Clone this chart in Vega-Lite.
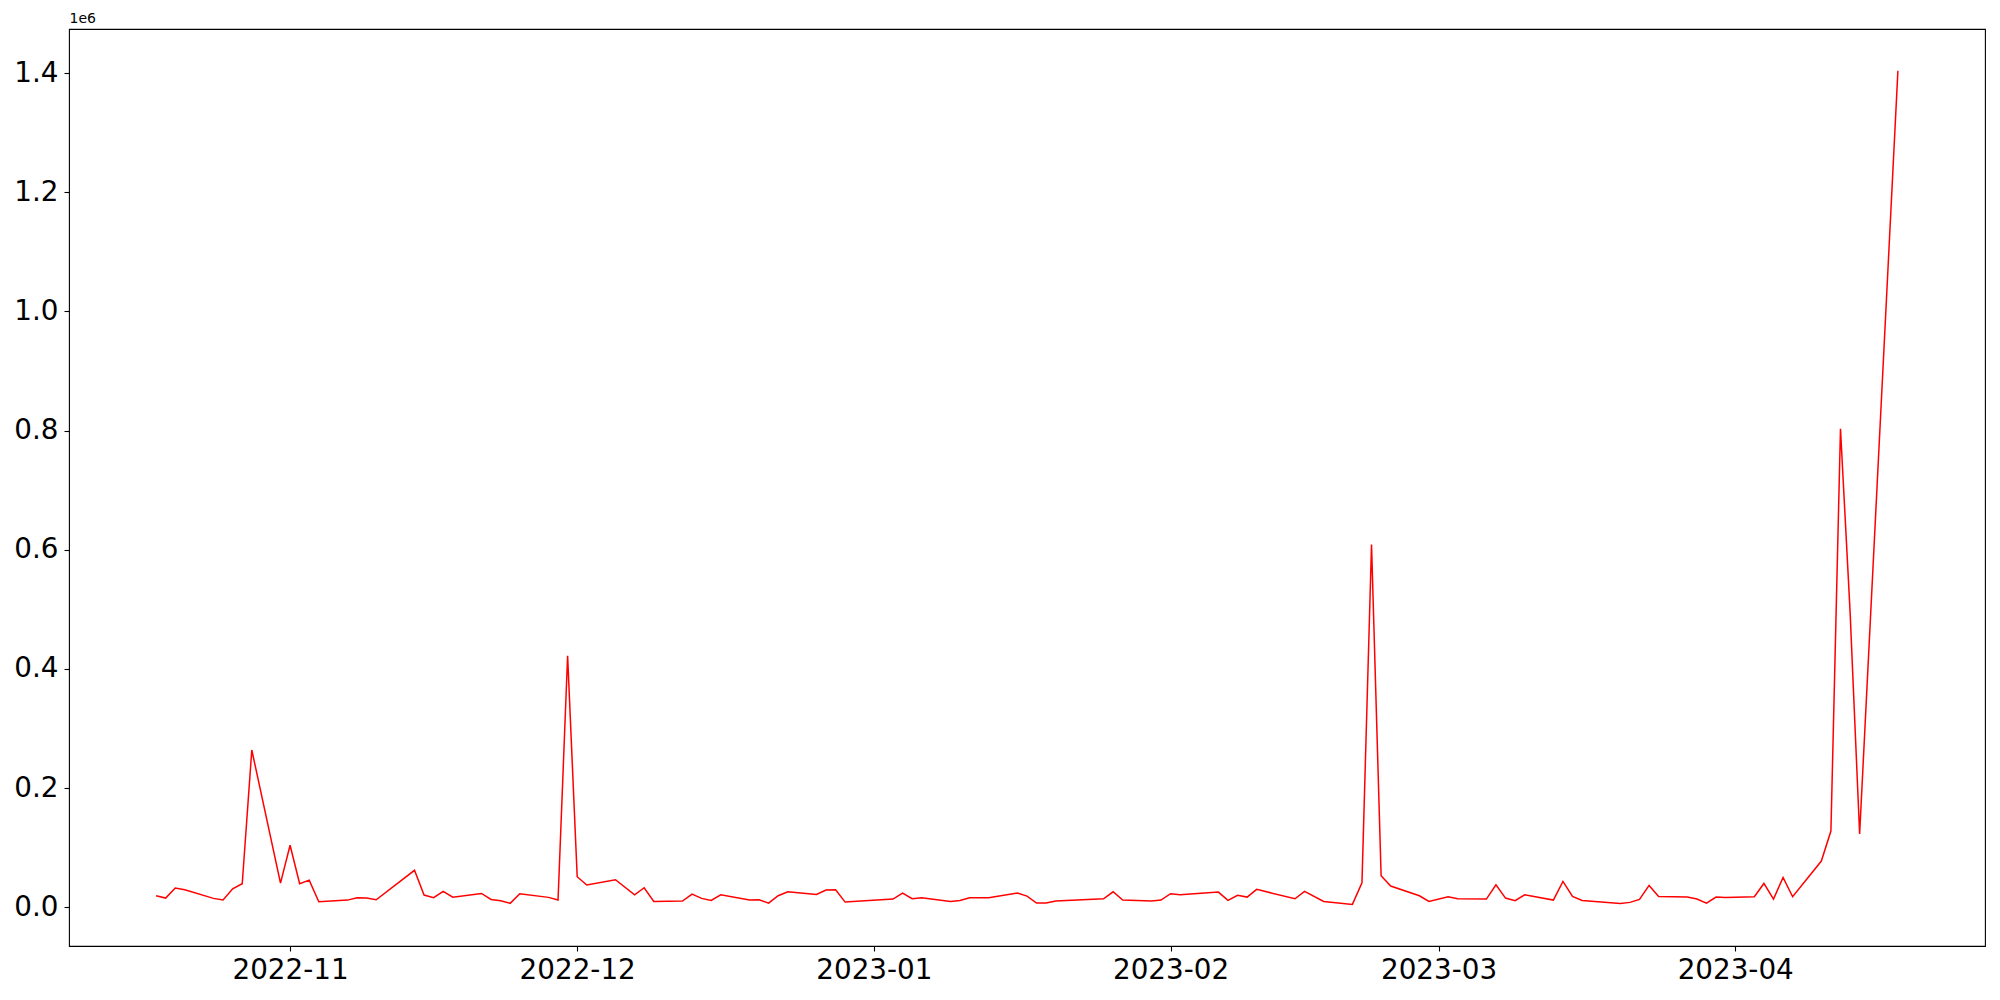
{
  "$schema": "https://vega.github.io/schema/vega-lite/v6.json",
  "width": 1916,
  "height": 917,
  "autosize": {"type": "none"},
  "padding": {"left": 69, "top": 29, "right": 15, "bottom": 54},
  "background": "white",
  "config": {
    "view": {"stroke": "black", "strokeWidth": 1.1},
    "font": "DejaVu Sans"
  },
  "data": {
    "values": [
      {"date": "2022-10-18", "value": 19300},
      {"date": "2022-10-19", "value": 15400},
      {"date": "2022-10-20", "value": 32200},
      {"date": "2022-10-21", "value": 29400},
      {"date": "2022-10-24", "value": 14900},
      {"date": "2022-10-25", "value": 12100},
      {"date": "2022-10-26", "value": 31000},
      {"date": "2022-10-27", "value": 39500},
      {"date": "2022-10-28", "value": 264000},
      {"date": "2022-10-31", "value": 40500},
      {"date": "2022-11-01", "value": 104000},
      {"date": "2022-11-02", "value": 39500},
      {"date": "2022-11-03", "value": 45600},
      {"date": "2022-11-04", "value": 9300},
      {"date": "2022-11-07", "value": 12000},
      {"date": "2022-11-08", "value": 16000},
      {"date": "2022-11-09", "value": 15400},
      {"date": "2022-11-10", "value": 12600},
      {"date": "2022-11-14", "value": 62000},
      {"date": "2022-11-15", "value": 20500},
      {"date": "2022-11-16", "value": 16000},
      {"date": "2022-11-17", "value": 26700},
      {"date": "2022-11-18", "value": 17000},
      {"date": "2022-11-21", "value": 23200},
      {"date": "2022-11-22", "value": 13200},
      {"date": "2022-11-23", "value": 11000},
      {"date": "2022-11-24", "value": 6500},
      {"date": "2022-11-25", "value": 22700},
      {"date": "2022-11-28", "value": 16600},
      {"date": "2022-11-29", "value": 12100},
      {"date": "2022-11-30", "value": 422000},
      {"date": "2022-12-01", "value": 51200},
      {"date": "2022-12-02", "value": 37300},
      {"date": "2022-12-05", "value": 46200},
      {"date": "2022-12-07", "value": 21000},
      {"date": "2022-12-08", "value": 32800},
      {"date": "2022-12-09", "value": 9800},
      {"date": "2022-12-12", "value": 10400},
      {"date": "2022-12-13", "value": 22200},
      {"date": "2022-12-14", "value": 14900},
      {"date": "2022-12-15", "value": 11500},
      {"date": "2022-12-16", "value": 21000},
      {"date": "2022-12-19", "value": 12100},
      {"date": "2022-12-20", "value": 12600},
      {"date": "2022-12-21", "value": 7000},
      {"date": "2022-12-22", "value": 19300},
      {"date": "2022-12-23", "value": 26000},
      {"date": "2022-12-26", "value": 21600},
      {"date": "2022-12-27", "value": 28900},
      {"date": "2022-12-28", "value": 29400},
      {"date": "2022-12-29", "value": 8700},
      {"date": "2023-01-03", "value": 13800},
      {"date": "2023-01-04", "value": 23800},
      {"date": "2023-01-05", "value": 14300},
      {"date": "2023-01-06", "value": 16000},
      {"date": "2023-01-09", "value": 9800},
      {"date": "2023-01-10", "value": 11500},
      {"date": "2023-01-11", "value": 16000},
      {"date": "2023-01-13", "value": 16000},
      {"date": "2023-01-16", "value": 23800},
      {"date": "2023-01-17", "value": 18800},
      {"date": "2023-01-18", "value": 7000},
      {"date": "2023-01-19", "value": 7000},
      {"date": "2023-01-20", "value": 10400},
      {"date": "2023-01-25", "value": 14300},
      {"date": "2023-01-26", "value": 26000},
      {"date": "2023-01-27", "value": 12100},
      {"date": "2023-01-30", "value": 10400},
      {"date": "2023-01-31", "value": 12100},
      {"date": "2023-02-01", "value": 22700},
      {"date": "2023-02-02", "value": 21000},
      {"date": "2023-02-06", "value": 25500},
      {"date": "2023-02-07", "value": 11500},
      {"date": "2023-02-08", "value": 20000},
      {"date": "2023-02-09", "value": 17100},
      {"date": "2023-02-10", "value": 30000},
      {"date": "2023-02-14", "value": 14300},
      {"date": "2023-02-15", "value": 26700},
      {"date": "2023-02-17", "value": 9800},
      {"date": "2023-02-20", "value": 4800},
      {"date": "2023-02-21", "value": 41000},
      {"date": "2023-02-22", "value": 609000},
      {"date": "2023-02-23", "value": 52900},
      {"date": "2023-02-24", "value": 35600},
      {"date": "2023-02-27", "value": 19300},
      {"date": "2023-02-28", "value": 9800},
      {"date": "2023-03-02", "value": 17700},
      {"date": "2023-03-03", "value": 14300},
      {"date": "2023-03-06", "value": 13800},
      {"date": "2023-03-07", "value": 37800},
      {"date": "2023-03-08", "value": 15400},
      {"date": "2023-03-09", "value": 11000},
      {"date": "2023-03-10", "value": 21000},
      {"date": "2023-03-13", "value": 12100},
      {"date": "2023-03-14", "value": 43400},
      {"date": "2023-03-15", "value": 18200},
      {"date": "2023-03-16", "value": 11500},
      {"date": "2023-03-17", "value": 10000},
      {"date": "2023-03-20", "value": 6500},
      {"date": "2023-03-21", "value": 8200},
      {"date": "2023-03-22", "value": 13200},
      {"date": "2023-03-23", "value": 36700},
      {"date": "2023-03-24", "value": 18200},
      {"date": "2023-03-27", "value": 17100},
      {"date": "2023-03-28", "value": 13800},
      {"date": "2023-03-29", "value": 7000},
      {"date": "2023-03-30", "value": 17100},
      {"date": "2023-03-31", "value": 16400},
      {"date": "2023-04-03", "value": 17700},
      {"date": "2023-04-04", "value": 40000},
      {"date": "2023-04-05", "value": 13800},
      {"date": "2023-04-06", "value": 50100},
      {"date": "2023-04-07", "value": 17700},
      {"date": "2023-04-10", "value": 77500},
      {"date": "2023-04-11", "value": 128000},
      {"date": "2023-04-12", "value": 803000},
      {"date": "2023-04-13", "value": 497000},
      {"date": "2023-04-14", "value": 123000},
      {"date": "2023-04-18", "value": 1404000}
    ]
  },
  "mark": {"type": "line", "color": "#ff0000", "strokeWidth": 1.5, "clip": true},
  "encoding": {
    "x": {
      "field": "date",
      "type": "temporal",
      "scale": {
        "type": "utc",
        "domain": [
          {"year": 2022, "month": 10, "date": 8, "hours": 21, "minutes": 36, "utc": true},
          {"year": 2023, "month": 4, "date": 27, "hours": 2, "minutes": 24, "utc": true}
        ]
      },
      "axis": {
        "title": null,
        "values": [
          {"year": 2022, "month": 11, "date": 1, "utc": true},
          {"year": 2022, "month": 12, "date": 1, "utc": true},
          {"year": 2023, "month": 1, "date": 1, "utc": true},
          {"year": 2023, "month": 2, "date": 1, "utc": true},
          {"year": 2023, "month": 3, "date": 1, "utc": true},
          {"year": 2023, "month": 4, "date": 1, "utc": true}
        ],
        "labelExpr": "utcFormat(datum.value, '%Y-%m')",
        "domain": false,
        "grid": false,
        "ticks": true,
        "tickSize": 5,
        "tickWidth": 1.1,
        "tickColor": "black",
        "labelFontSize": 27.8,
        "labelColor": "black",
        "labelPadding": 5,
        "labelFlush": false
      }
    },
    "y": {
      "field": "value",
      "type": "quantitative",
      "scale": {"domain": [-65000, 1474000], "nice": false, "zero": false},
      "axis": {
        "values": [0, 200000, 400000, 600000, 800000, 1000000, 1200000, 1400000],
        "labelExpr": "format(datum.value / 1000000, '.1f')",
        "title": "1e6",
        "titleAngle": 0,
        "titleX": 0,
        "titleY": -4,
        "titleAlign": "left",
        "titleBaseline": "bottom",
        "titleFontSize": 14,
        "titleFontWeight": "normal",
        "titleColor": "black",
        "domain": false,
        "grid": false,
        "ticks": true,
        "tickSize": 5,
        "tickWidth": 1.1,
        "tickColor": "black",
        "labelFontSize": 27.8,
        "labelColor": "black",
        "labelPadding": 6,
        "labelFlush": false
      }
    }
  }
}
